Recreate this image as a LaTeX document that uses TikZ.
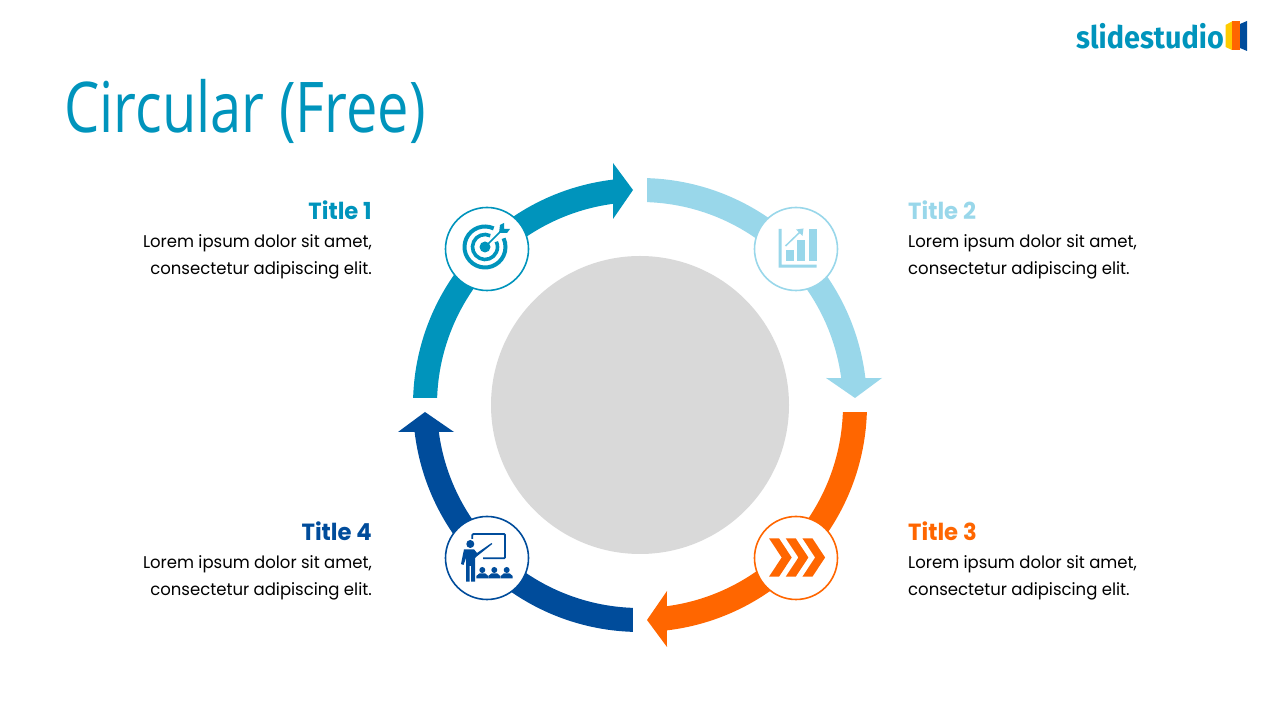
\documentclass[tikz,border=0pt]{standalone}
\usepackage{fontspec}
\setmainfont[FakeStretch=0.97]{Poppins}
\newfontfamily\headfont[FakeStretch=0.8]{Open Sans}
\newfontfamily\logofont[FakeStretch=0.93]{Fira Sans}
\definecolor{teal1}{HTML}{0094BC}
\definecolor{sky1}{HTML}{99D7EA}
\definecolor{orange1}{HTML}{FF6600}
\definecolor{navy1}{HTML}{004C9B}
\definecolor{grey1}{HTML}{D9D9D9}
\definecolor{yellow1}{HTML}{FFCC00}
\tikzset{
ring/.style={circle,draw=#1,fill=white,line width=1.6pt,minimum size=83pt,inner sep=0pt},
titletext/.style={text=#1,font=\fontsize{23.4}{27}\selectfont\bfseries,inner sep=0pt},
bodytext/.style={text=black,font=\fontsize{17}{27}\selectfont,inner sep=0pt}
}
\begin{document}
\begin{tikzpicture}[x=1pt,y=1pt]
\useasboundingbox (0,0) rectangle (1280,720);
\node[anchor=base west,inner sep=0pt,text=teal1,font=\fontsize{70}{70}\selectfont\headfont] (heading) at (64,587) {Circular (Free)};
\node[anchor=base west,inner sep=0pt,text=teal1,font=\fontsize{31}{31}\selectfont\logofont\bfseries] (logo) at (1076,671) {slidestudio};
\fill[yellow1] (1225.5,695) -- (1232,698.5) -- (1232,670) -- (1225.5,673) -- cycle;
\fill[orange1] (1232,698.5) -- (1240,698.5) -- (1240,670) -- (1232,670) -- cycle;
\fill[navy1] (1240,696) -- (1247,699) -- (1247,669) -- (1240,672) -- cycle;
\fill[grey1] (640,315) circle[radius=149];
% the four arrows, all the same shape
\foreach \a/\c in {0/teal1,-90/sky1,-180/orange1,-270/navy1}{
\fill[\c,shift={(640,315)},rotate=\a] (178.2:227) arc[start angle=178.2,end angle=96.8,radius=227] -- (-27,242) -- (-7,215) -- (-27,186) -- (97.6:203) arc[start angle=97.6,end angle=178,radius=203] -- cycle;}
\begin{scope}[shift={(0,720)},yscale=-1]
\node[ring=teal1] (ringA) at (487,249) {};
\node[ring=sky1] (ringB) at (796,249) {};
\node[ring=orange1] (ringC) at (796,558) {};
\node[ring=navy1] (ringD) at (487,558) {};
% titles and text
\foreach \n/\c/\x/\y/\t in {A/teal1/372/220/Title 1,D/navy1/372/541/Title 4}{
\node[titletext=\c,anchor=base east] (title\n) at (\x,\y) {\t};
\node[bodytext,anchor=base east,align=right] (text\n) at (\x,\y+55) {Lorem ipsum dolor sit amet,\\consectetur adipiscing elit.};}
\foreach \n/\c/\x/\y/\t in {B/sky1/908/220/Title 2,C/orange1/908/541/Title 3}{
\node[titletext=\c,anchor=base west] (title\n) at (\x,\y) {\t};
\node[bodytext,anchor=base west,align=left] (text\n) at (\x,\y+55) {Lorem ipsum dolor sit amet,\\consectetur adipiscing elit.};}
% chart icon
\fill[sky1] (778.7,229) -- (781.7,229) -- (781.7,264.7) -- (816.7,264.7) -- (816.7,267.7) -- (778.7,267.7) -- cycle;
\foreach \x/\y in {785.7/250,797.3/240,809/229}
\fill[sky1] (\x,\y) rectangle (\x+8,260.7);
\draw[sky1,line width=1.5pt] (785.5,246) -- (800,232);
\fill[sky1] (803.5,228.5) -- (802.5,236) -- (796,229.5) -- cycle;
% chevrons
\foreach \x in {0,16.7,33.4}
\fill[orange1,shift={(\x,0)}] (769,538.3) -- (779,538.3) -- (791.7,557.5) -- (779,576.7) -- (769,576.7) -- (781.7,557.5) -- cycle;
% presenter
\fill[navy1] (470.3,544) circle[radius=4];
\fill[navy1] (464,549.3) -- (474,549.3) -- (477,553) -- (491.5,543) -- (492.3,544) -- (476,557) -- (475,558) -- (475,581.7) -- (471,581.7) -- (471,566) -- (469.5,566) -- (469.5,581.7) -- (466,581.7) -- (466,558) -- (463.5,565) -- (461,564) -- cycle;
\draw[navy1,line width=1.8pt,rounded corners=1pt] (472.3,539) -- (472.3,534) -- (505,534) -- (505,558.3) -- (483,558.3);
\foreach \x in {482.3,494.3,506.7}{
\fill[navy1] (\x,570) circle[radius=3];
\fill[navy1] (\x-6,578.3) -- (\x-6,576) -- (\x-3,573.5) -- (\x+3,573.5) -- (\x+6,576) -- (\x+6,578.3) -- cycle;}
\end{scope}
% target icon
\draw[teal1,line width=4pt] (485,473)+(65:20.5) arc[start angle=65,end angle=385,radius=20.5];
\draw[teal1,line width=3.6pt] (485,473)+(65:12.5) arc[start angle=65,end angle=385,radius=12.5];
\fill[teal1] (485,473) circle[radius=5.5];
\draw[teal1,line width=1.6pt] (485,473) -- (502,490);
\fill[teal1] (499,487) -- (500,495) -- (504,497) -- (504,491) -- (510,491) -- (507,487) -- cycle;
\end{tikzpicture}
\end{document}
